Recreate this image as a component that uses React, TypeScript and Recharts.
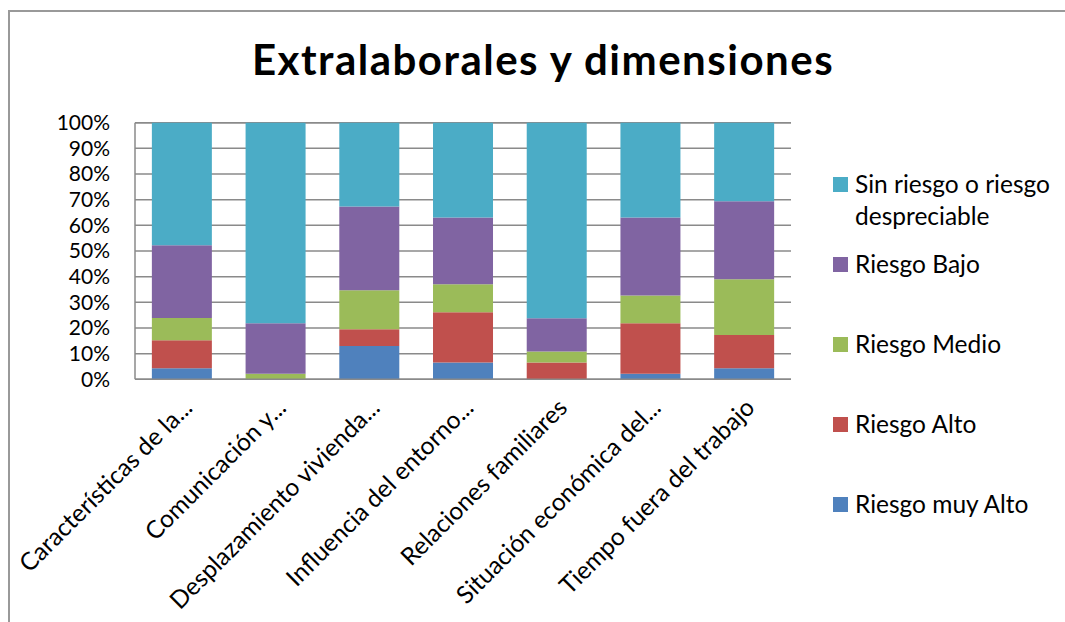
import React from "react";
import { BarChart, Bar, XAxis, YAxis, CartesianGrid, Legend } from "recharts";

const FONT = "Lato, 'Open Sans', sans-serif";

// categories as they appear (truncated) on the axis
const categories = [
  "Características de la...",
  "Comunicación y...",
  "Desplazamiento vivienda...",
  "Influencia del entorno...",
  "Relaciones familiares",
  "Situación económica del...",
  "Tiempo fuera del trabajo",
];

// percentages per category
const muyAlto = [4.3, 0, 13.0, 6.5, 0, 2.2, 4.3];
const alto = [10.9, 0, 6.5, 19.6, 6.5, 19.6, 13.0];
const medio = [8.7, 2.2, 15.2, 10.9, 4.3, 10.9, 21.7];
const bajo = [28.3, 19.6, 32.6, 26.1, 13.0, 30.4, 30.4];
const sinRiesgo = [47.8, 78.2, 32.7, 36.9, 76.2, 36.9, 30.6];

const yTicks = [0, 10, 20, 30, 40, 50, 60, 70, 80, 90, 100];

const SERIES = [
  { key: "muyAlto", name: "Riesgo muy Alto", color: "#4F81BD" },
  { key: "alto", name: "Riesgo Alto", color: "#C0504D" },
  { key: "medio", name: "Riesgo Medio", color: "#9BBB59" },
  { key: "bajo", name: "Riesgo Bajo", color: "#8064A2" },
  { key: "sinRiesgo", name: "Sin riesgo o riesgo despreciable", color: "#4BACC6" },
];

const data = categories.map((name, i) => ({
  name,
  muyAlto: muyAlto[i],
  alto: alto[i],
  medio: medio[i],
  bajo: bajo[i],
  sinRiesgo: sinRiesgo[i],
}));

const AngledTick = ({ x, y, payload }: any) => {
  const ax = x + 12;
  const ay = y + 22;
  return (
    <text
      x={ax}
      y={ay}
      transform={`rotate(-45, ${ax}, ${ay})`}
      textAnchor="end"
      fontFamily={FONT}
      fontSize={24.5}
      fill="#000"
    >
      {payload.value}
    </text>
  );
};

const renderLegend = () => (
  <div style={{ fontFamily: FONT, fontSize: 24.5, color: "#000" }}>
    {[...SERIES].reverse().map((s) => (
      <div key={s.key} style={{ display: "flex", alignItems: "flex-start", height: 80 }}>
        <span
          style={{ width: 15, height: 15, background: s.color, marginTop: 9.5, marginRight: 7, flexShrink: 0 }}
        />
        <span style={{ width: 205, lineHeight: "32px" }}>{s.name}</span>
      </div>
    ))}
  </div>
);

export default function App() {
  return (
    <div style={{ position: "absolute", left: 0, top: 0, width: 1065, height: 622, background: "#fff" }}>
      {/* frame: top and left edges only */}
      <div
        style={{
          position: "absolute",
          left: 8,
          top: 10,
          right: 0,
          bottom: 0,
          borderTop: "2px solid #999",
          borderLeft: "2px solid #999",
        }}
      />
      <div
        style={{
          position: "absolute",
          left: 0,
          width: 1086,
          top: 37.5,
          textAlign: "center",
          fontFamily: FONT,
          fontWeight: 700,
          fontSize: 42,
          letterSpacing: 1.5,
          lineHeight: 1,
          color: "#000",
        }}
      >
        Extralaborales y dimensiones
      </div>
      <div style={{ position: "absolute", left: 0, top: 0 }}>
        <BarChart
          width={1065}
          height={622}
          data={data}
          barCategoryGap="18%"
          margin={{ top: 122.7, right: 44, left: 55, bottom: 42.7 }}
        >
          <CartesianGrid vertical={false} stroke="#8a8a8a" strokeWidth={1.5} />
          <XAxis
            dataKey="name"
            interval={0}
            height={200}
            tick={<AngledTick />}
            tickLine={false}
            axisLine={{ stroke: "#8a8a8a", strokeWidth: 1.5 }}
          />
          <YAxis
            domain={[0, 100]}
            ticks={yTicks}
            interval={0}
            tickFormatter={(v) => `${v}%`}
            width={80}
            tickSize={0}
            tickMargin={25}
            tickLine={false}
            axisLine={{ stroke: "#8a8a8a", strokeWidth: 1.5 }}
            tick={{ fontFamily: FONT, fontSize: 21, fill: "#000" }}
          />
          <Legend
            content={renderLegend}
            layout="horizontal"
            verticalAlign="middle"
            align="right"
            wrapperStyle={{ position: "absolute", left: 833, top: 167.5, width: 230 }}
          />
          {SERIES.map((s) => (
            <Bar key={s.key} dataKey={s.key} name={s.name} stackId="a" fill={s.color} isAnimationActive={false} />
          ))}
        </BarChart>
      </div>
    </div>
  );
}
